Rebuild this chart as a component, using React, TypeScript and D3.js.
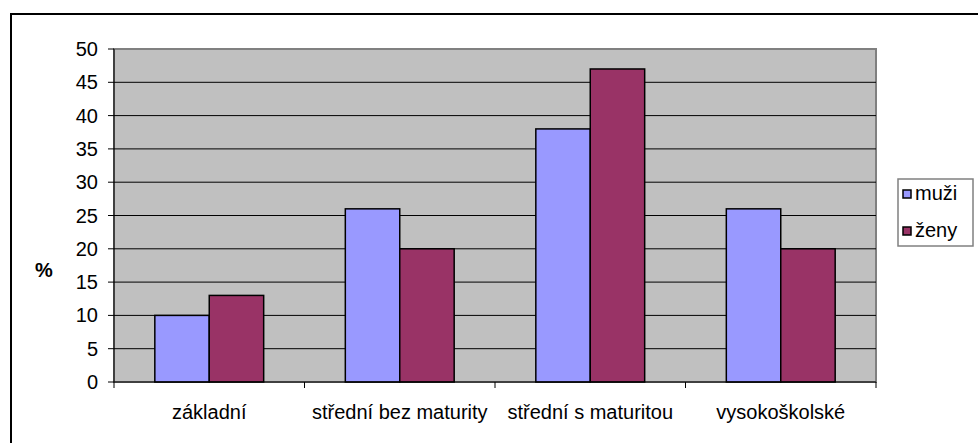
import React from "react";
import * as d3 from "d3";

const categories = ["základní", "střední bez maturity", "střední s maturitou", "vysokoškolské"];
const seriesNames = ["muži", "ženy"];
const muzi = [10, 26, 38, 26];
const zeny = [13, 20, 47, 20];
const yTicks = [0, 5, 10, 15, 20, 25, 30, 35, 40, 45, 50];
const colors = ["#9999FF", "#993366"];

export default function App() {
  const W = 978, H = 443;
  const left = 114, right = 876, top = 49, bottom = 382;
  const x = d3.scaleBand<string>().domain(categories).range([left, right]).paddingInner(0).paddingOuter(0);
  const y = d3.scaleLinear().domain([0, 50]).range([bottom, top]);
  const bw = x.bandwidth() / 3.5;
  const series = [muzi, zeny];
  const font = "'Liberation Sans', Arial, sans-serif";
  const fs = 20;
  return (
    <svg width={W} height={H} style={{ position: "absolute", left: 0, top: 0 }} fontFamily={font}>
      <rect x={0} y={0} width={W} height={H} fill="#fff" />
      <rect x={11} y={14} width={W + 20} height={H + 20} fill="none" stroke="#000" strokeWidth={2} />
      <rect x={left} y={top} width={right - left} height={bottom - top} fill="#C0C0C0" stroke="#808080" strokeWidth={2} />
      {yTicks.map((t) => (
        <g key={t}>
          {t > 0 && t < 50 && <line x1={left} x2={right} y1={y(t)} y2={y(t)} stroke="#000" strokeWidth={1} />}
          <line x1={left - 6} x2={left} y1={y(t)} y2={y(t)} stroke="#000" strokeWidth={1} />
          <text x={98} y={y(t) + 7} textAnchor="end" fontSize={fs}>{t}</text>
        </g>
      ))}
      {categories.map((c, i) =>
        series.map((s, j) => (
          <rect
            key={c + j}
            x={(x(c) as number) + bw * 0.75 + j * bw}
            y={y(s[i])}
            width={bw}
            height={y(0) - y(s[i])}
            fill={colors[j]}
            stroke="#000"
            strokeWidth={1.5}
          />
        ))
      )}
      <line x1={left} x2={left} y1={top} y2={bottom} stroke="#000" strokeWidth={1} />
      <line x1={left} x2={right} y1={bottom} y2={bottom} stroke="#000" strokeWidth={1} />
      {[...categories.map((c) => x(c) as number), right].map((v, i) => (
        <line key={i} x1={v} x2={v} y1={bottom} y2={bottom + 6} stroke="#000" strokeWidth={1} />
      ))}
      {categories.map((c) => (
        <text key={c} x={(x(c) as number) + x.bandwidth() / 2} y={419} textAnchor="middle" fontSize={fs}>{c}</text>
      ))}
      <text x={44} y={277} textAnchor="middle" fontSize={fs} fontWeight="bold">%</text>
      <rect x={898} y={179} width={75} height={67} fill="#fff" stroke="#808080" strokeWidth={1.5} />
      {seriesNames.map((n, j) => (
        <g key={n}>
          <rect x={903} y={190 + j * 37} width={8} height={8} fill={colors[j]} stroke="#000" strokeWidth={1.5} />
          <text x={915} y={200 + j * 37} fontSize={fs}>{n}</text>
        </g>
      ))}
    </svg>
  );
}
